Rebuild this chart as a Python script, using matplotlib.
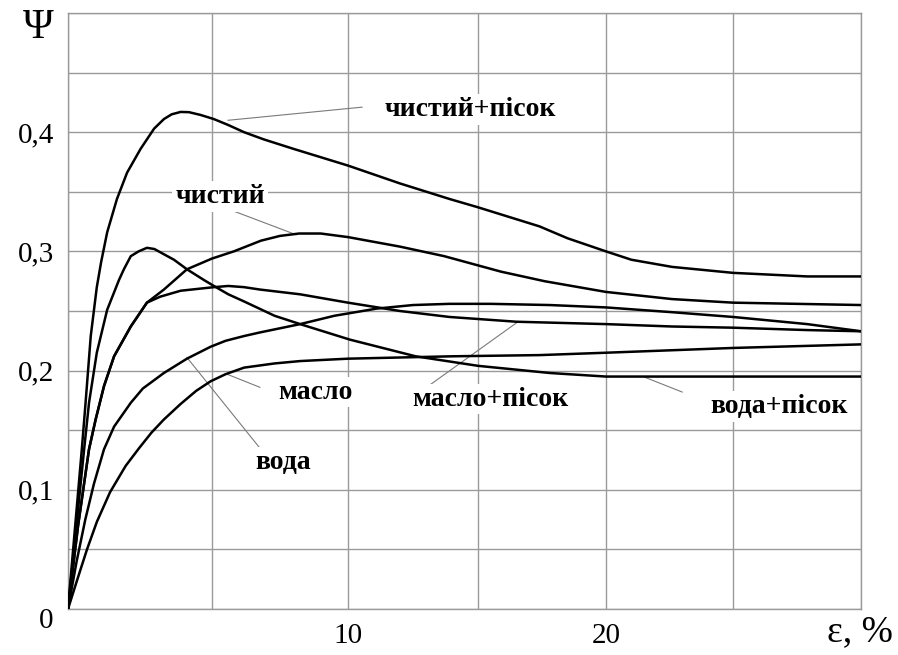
import numpy as np
import matplotlib.pyplot as plt

# data: eps (%), psi
eps_chystyi_pisok = [0, 0.2, 0.48, 0.61, 0.79, 1.0, 1.15, 1.36, 1.7, 2.05, 2.52, 2.99, 3.33, 3.6,
                     3.91, 4.2, 4.6, 5.07, 5.6, 6.18, 6.9, 8.0, 10, 12, 13.9, 15, 17.4, 18.5, 20,
                     21, 22.6, 25, 27.9, 30]
psi_chystyi_pisok = [0, 0.056, 0.134, 0.173, 0.229, 0.27, 0.291, 0.316, 0.344, 0.366, 0.386, 0.403,
                     0.411, 0.415, 0.417, 0.4168, 0.4145, 0.411, 0.406, 0.4, 0.394, 0.386, 0.372,
                     0.357, 0.344, 0.337, 0.321, 0.311, 0.300, 0.293, 0.287, 0.282, 0.279, 0.279]

eps_chystyi = [0, 0.35, 0.73, 0.96, 1.25, 1.6, 2.18, 2.74, 3.33, 4.13, 5.0, 5.8, 6.8, 7.5, 8.2,
               9.0, 10, 12, 13.7, 15.9, 17.6, 20, 22.6, 25, 30]
psi_chystyi = [0, 0.07, 0.134, 0.159, 0.187, 0.212, 0.237, 0.257, 0.268, 0.285, 0.294, 0.300,
               0.309, 0.313, 0.315, 0.315, 0.312, 0.304, 0.296, 0.283, 0.275, 0.266, 0.260,
               0.257, 0.255]

eps_voda_pisok = [0, 0.28, 0.56, 0.73, 1.0, 1.36, 1.77, 1.94, 2.18, 2.45, 2.74, 3.0, 3.3, 3.68,
                  4.13, 4.72, 5.07, 5.6, 6.18, 7.3, 8.24, 10.07, 12.6, 15, 17.8, 20, 25, 30]
psi_voda_pisok = [0, 0.067, 0.134, 0.173, 0.215, 0.251, 0.276, 0.285, 0.296, 0.300, 0.303,
                  0.302, 0.298, 0.293, 0.285, 0.276, 0.271, 0.264, 0.258, 0.246, 0.239, 0.226,
                  0.212, 0.204, 0.198, 0.195, 0.195, 0.195]

eps_maslo_pisok = [0, 0.35, 0.73, 0.96, 1.25, 1.6, 2.18, 2.74, 3.2, 3.91, 5.07, 5.6, 6.18, 6.76,
                   8.24, 10, 12, 13.9, 16.5, 20, 22.6, 25, 27.9, 30]
psi_maslo_pisok = [0, 0.07, 0.134, 0.159, 0.187, 0.212, 0.237, 0.257, 0.262, 0.267, 0.270, 0.271,
                   0.270, 0.268, 0.264, 0.257, 0.25, 0.245, 0.241, 0.239, 0.237, 0.236, 0.234, 0.233]

eps_voda = [0, 0.3, 0.6, 0.9, 1.25, 1.6, 2.18, 2.6, 3.33, 4.13, 4.95, 5.5, 6.18, 6.76, 8.24, 9.5,
            11.1, 12.5, 13.9, 15.5, 17.8, 20, 22.6, 25, 27.9, 30]
psi_voda = [0, 0.04, 0.075, 0.105, 0.134, 0.153, 0.173, 0.185, 0.198, 0.21, 0.22, 0.225, 0.229,
            0.232, 0.239, 0.246, 0.252, 0.255, 0.256, 0.256, 0.255, 0.253, 0.249, 0.245, 0.239,
            0.233]

eps_maslo = [0, 0.3, 0.66, 1.0, 1.46, 2.0, 2.47, 2.9, 3.33, 3.91, 4.45, 4.95, 5.5, 6.18, 7.3,
             8.24, 10, 14, 17.4, 20, 25, 30]
psi_maslo = [0, 0.023, 0.05, 0.073, 0.098, 0.12, 0.135, 0.148, 0.159, 0.172, 0.183, 0.191, 0.197,
             0.2025, 0.206, 0.208, 0.21, 0.212, 0.213, 0.215, 0.219, 0.222]

curves = [
    (eps_chystyi_pisok, psi_chystyi_pisok),
    (eps_chystyi, psi_chystyi),
    (eps_voda_pisok, psi_voda_pisok),
    (eps_maslo_pisok, psi_maslo_pisok),
    (eps_voda, psi_voda),
    (eps_maslo, psi_maslo),
]

# label text, text anchor (left, centre), leader line start -> end on curve
labels = [
    ("чистий+пісок", (11.42, 0.419), (10.54, 0.421), (5.59, 0.410)),
    ("чистий", (3.72, 0.346), (5.66, 0.335), (8.09, 0.314)),
    ("масло", (7.43, 0.182), (6.76, 0.186), (5.55, 0.197)),
    ("вода", (6.58, 0.123), (6.76, 0.135), (4.13, 0.211)),
    ("масло+пісок", (12.46, 0.176), (13.15, 0.188), (16.5, 0.240)),
    ("вода+пісок", (24.1, 0.170), (23.0, 0.182), (21.46, 0.195)),
]

# the printed grid is not quite uniform along eps
grid_eps = [0, 5, 10, 15, 20, 25, 30]
grid_px = [0, 144, 280, 410, 538, 665, 793]


def fwd(x):
    return np.interp(x, grid_eps, grid_px)


def inv(p):
    return np.interp(p, grid_px, grid_eps)


plt.rcParams['font.family'] = ['Liberation Serif', 'DejaVu Serif']

fig = plt.figure(figsize=(8.98, 6.55), dpi=100)
ax = fig.add_axes([68 / 898, 1 - 609 / 655, 793 / 898, 596 / 655])
ax.set_xscale('function', functions=(fwd, inv))
ax.set_xlim(0, 30)
ax.set_ylim(0, 0.5)

gray = '#9a9a9a'
ax.set_xticks(grid_eps)
ax.set_xticklabels(['', '', '10', '', '20', '', ''])
ax.set_yticks(np.arange(0, 0.501, 0.05))
ax.set_yticklabels(['', '', '0,1', '', '0,2', '', '0,3', '', '0,4', '', ''])
ax.tick_params(length=0, labelsize=21, pad=10)
ax.grid(True, color=gray, linewidth=1.0)
for s in ax.spines.values():
    s.set_color(gray)
    s.set_linewidth(1.0)

for x, y in curves:
    ax.plot(x, y, color='black', linewidth=1.8, zorder=3, solid_joinstyle='round')

for text, (tx, ty), p0, p1 in labels:
    ax.plot([p0[0], p1[0]], [p0[1], p1[1]], color='#7a7a7a', linewidth=0.8, zorder=2)
    ax.text(tx, ty, text, ha='left', va='center', fontsize=20, fontweight='bold', zorder=4,
            bbox=dict(facecolor='white', edgecolor='none', pad=2))

fig.text(46 / 898, 1 - 621 / 655, '0', ha='center', va='center', fontsize=21)
fig.text(38 / 898, 1 - 28 / 655, 'Ψ', ha='center', va='center', fontsize=30)
fig.text(893 / 898, 1 - 632 / 655, 'ε, %', ha='right', va='center', fontsize=27)

plt.savefig('out.png', dpi=100)
